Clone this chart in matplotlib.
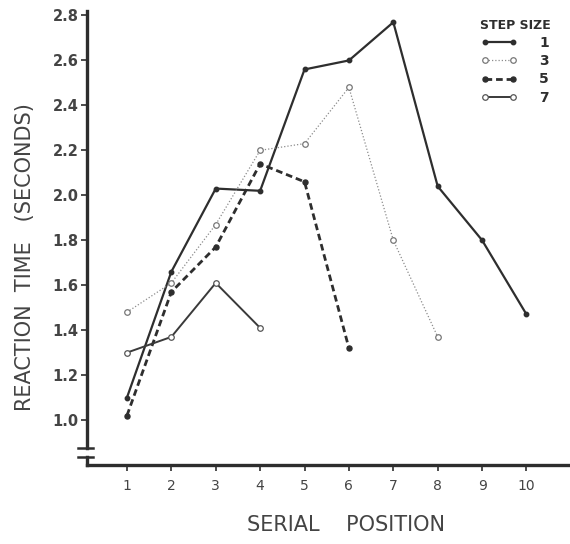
import numpy as np
import matplotlib
matplotlib.use("Agg")
import matplotlib.pyplot as plt

# reaction time (s) by serial position, one series per step size
pos_1 = [1, 2, 3, 4, 5, 6, 7, 8, 9, 10]
rt_1 = [1.10, 1.66, 2.03, 2.02, 2.56, 2.60, 2.77, 2.04, 1.80, 1.47]
pos_3 = [1, 2, 3, 4, 5, 6, 7, 8]
rt_3 = [1.48, 1.61, 1.87, 2.20, 2.23, 2.48, 1.80, 1.37]
pos_5 = [1, 2, 3, 4, 5, 6]
rt_5 = [1.02, 1.57, 1.77, 2.14, 2.06, 1.32]
pos_7 = [1, 2, 3, 4]
rt_7 = [1.30, 1.37, 1.61, 1.41]

x_ticks = [1, 2, 3, 4, 5, 6, 7, 8, 9, 10]
y_ticks = [1.0, 1.2, 1.4, 1.6, 1.8, 2.0, 2.2, 2.4, 2.6, 2.8]

ink = "#2e2e2e"
plt.rcParams["font.family"] = ["DejaVu Sans"]

fig = plt.figure(figsize=(5.7, 5.44), dpi=100)
ax = fig.add_axes([87 / 570, 79 / 544, 483 / 570, 454 / 544])

# series
ax.plot(pos_1, rt_1, color=ink, lw=1.6, marker="o", ms=3.2,
        mfc=ink, mec=ink, label="1")
ax.plot(pos_3, rt_3, color="#8c8c8c", lw=0.9, ls=(0, (1, 1.6)), marker="o",
        ms=4, mfc="white", mec="#777777", mew=0.9, label="3")
ax.plot(pos_5, rt_5, color=ink, lw=2.0, ls=(0, (2.4, 1.4)), marker="o",
        ms=3.6, mfc=ink, mec=ink, label="5")
ax.plot(pos_7, rt_7, color="#3a3a3a", lw=1.4, marker="o", ms=4,
        mfc="white", mec="#555555", mew=0.9, label="7")

ax.set_xlim(0.1, 10.98)
ax.set_ylim(0.8, 2.82)

for side in ("top", "right"):
    ax.spines[side].set_visible(False)
for side in ("left", "bottom"):
    ax.spines[side].set_linewidth(2.4)
    ax.spines[side].set_color(ink)

ax.set_xticks(x_ticks)
ax.set_xticklabels([str(v) for v in x_ticks])
ax.set_yticks(y_ticks)
ax.set_yticklabels([f"{v:.1f}" for v in y_ticks])
ax.tick_params(axis="y", direction="out", length=4, width=1.2, colors=ink,
               labelsize=10.5, pad=2)
ax.tick_params(axis="x", direction="out", length=4, width=1.2, colors=ink,
               labelsize=10, pad=6, labelcolor="#444444")
for lbl in ax.get_yticklabels():
    lbl.set_fontweight("bold")
    lbl.set_color("#444444")

# axis break on the y axis
ax.plot([-0.01, 0.01], [0.027, 0.027], transform=ax.transAxes, color="white",
        lw=4, clip_on=False, solid_capstyle="butt", zorder=5)
for yy in (0.038, 0.017):
    ax.plot([-0.018, 0.012], [yy, yy], transform=ax.transAxes, color=ink,
            lw=1.8, clip_on=False, zorder=6)

fig.text(25 / 570, 1 - 257 / 544, "REACTION  TIME   (SECONDS)", fontsize=15,
         color="#444444", rotation=90, ha="center", va="center")
fig.text(346 / 570, 1 - 525 / 544, "SERIAL    POSITION", fontsize=15,
         color="#444444", ha="center", va="center")

leg = ax.legend(loc="upper right", bbox_to_anchor=(0.985, 1.01), frameon=False,
                numpoints=2, handlelength=2.6, handletextpad=1.6,
                labelspacing=0.3, fontsize=10, title="STEP SIZE",
                title_fontproperties={"weight": "bold", "size": 9})
for t in leg.get_texts():
    t.set_fontweight("bold")
    t.set_color(ink)
leg.get_title().set_color(ink)

fig.savefig("out.png", dpi=100, facecolor="white")
